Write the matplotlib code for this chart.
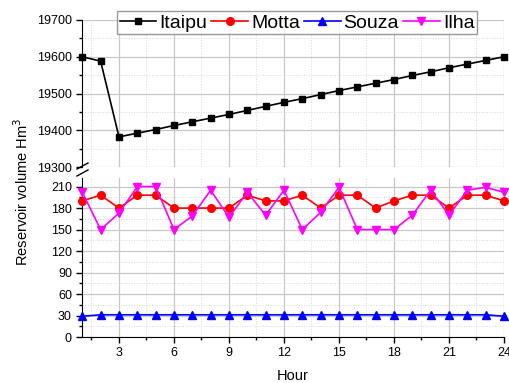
import matplotlib.pyplot as plt
from matplotlib.ticker import MultipleLocator
from matplotlib.lines import Line2D

plt.rcParams['font.family'] = ['Liberation Sans', 'DejaVu Sans']

# Data
hours = list(range(1, 25))
itaipu = [19600, 19588, 19382, 19392, 19402, 19413, 19423, 19433, 19443, 19454,
          19465, 19476, 19486, 19497, 19508, 19518, 19528, 19538, 19549, 19559,
          19570, 19580, 19590, 19600]
motta = [190, 198, 180, 198, 198, 180, 180, 180, 180, 198, 190, 190,
         198, 180, 198, 198, 180, 190, 198, 198, 180, 198, 198, 190]
souza = [29, 31, 31, 31, 31, 31, 31, 31, 31, 31, 31, 31,
         31, 31, 31, 31, 31, 31, 31, 31, 31, 31, 31, 29]
ilha = [202, 150, 173, 210, 210, 150, 169, 205, 167, 202, 170, 205,
        150, 174, 209, 150, 150, 150, 170, 205, 170, 205, 209, 202]

W, H = 509, 383
fig = plt.figure(figsize=(W / 100, H / 100), dpi=100)

left, right = 82.3 / W, 504 / W
ax_top = fig.add_axes([left, 1 - 167 / H, right - left, (167 - 20) / H])
ax_bot = fig.add_axes([left, 1 - 337 / H, right - left, (337 - 178) / H])

series = [
    ('Itaipu', itaipu, 'black', 's', 4.5),
    ('Motta', motta, 'red', 'o', 5.5),
    ('Souza', souza, 'blue', '^', 5.5),
    ('Ilha', ilha, '#ff00ff', 'v', 6),
]

handles = []
for name, vals, color, mk, ms in series:
    target = ax_top if name == 'Itaipu' else ax_bot
    target.plot(hours, vals, color=color, marker=mk, markersize=ms, lw=1.2,
                clip_on=False, zorder=3)
    handles.append(Line2D([], [], color=color, marker=mk, markersize=ms, lw=1.2))

ax_top.set_ylim(19300, 19700)
ax_bot.set_ylim(0, 222)
for ax in (ax_top, ax_bot):
    ax.set_xlim(1, 24)
    ax.xaxis.set_major_locator(MultipleLocator(3))
    ax.xaxis.set_minor_locator(MultipleLocator(1.5))
    ax.grid(True, which='major', color='#c8c8c8', lw=0.9)
    ax.grid(True, which='minor', color='#d8d8d8', lw=0.7, ls=':')
    ax.set_axisbelow(True)
    ax.spines['right'].set_visible(False)
    ax.spines['top'].set_visible(False)
    ax.tick_params(axis='y', which='major', direction='out', length=4,
                   labelsize=9, width=1)
    ax.tick_params(axis='y', which='minor', direction='out', length=2.5, width=1)

ax_top.yaxis.set_major_locator(MultipleLocator(100))
ax_top.yaxis.set_minor_locator(MultipleLocator(50))
ax_top.spines['bottom'].set_visible(False)
ax_top.tick_params(axis='x', which='both', bottom=False, labelbottom=False)

ax_bot.yaxis.set_major_locator(MultipleLocator(30))
ax_bot.yaxis.set_minor_locator(MultipleLocator(15))
ax_bot.set_yticks([0, 30, 60, 90, 120, 150, 180, 210])
ax_bot.tick_params(axis='x', which='major', direction='out', length=4,
                   labelsize=9, width=1)
ax_bot.tick_params(axis='x', which='minor', direction='out', length=2.5, width=1)
ax_bot.set_xlabel('Hour', fontsize=10.5, labelpad=7)

# break marks on the left axis
for yb in (166, 173):
    fig.add_artist(Line2D([77 / W, 88 / W], [1 - (yb + 3) / H, 1 - (yb - 3) / H],
                          color='black', lw=1))

fig.text(22 / W, 1 - 192 / H, 'Reservoir volume Hm$^3$', rotation=90,
         ha='center', va='center', fontsize=10.5)

fig.legend(handles, [s[0] for s in series], loc='upper center',
           bbox_to_anchor=(297 / W, 1 - 11 / H), ncol=4, fontsize=14,
           frameon=True, fancybox=False, edgecolor='#808080',
           handlelength=1.9, handletextpad=0.15, columnspacing=0.2,
           borderpad=0.15, borderaxespad=0)

fig.savefig('out.png', dpi=100)
